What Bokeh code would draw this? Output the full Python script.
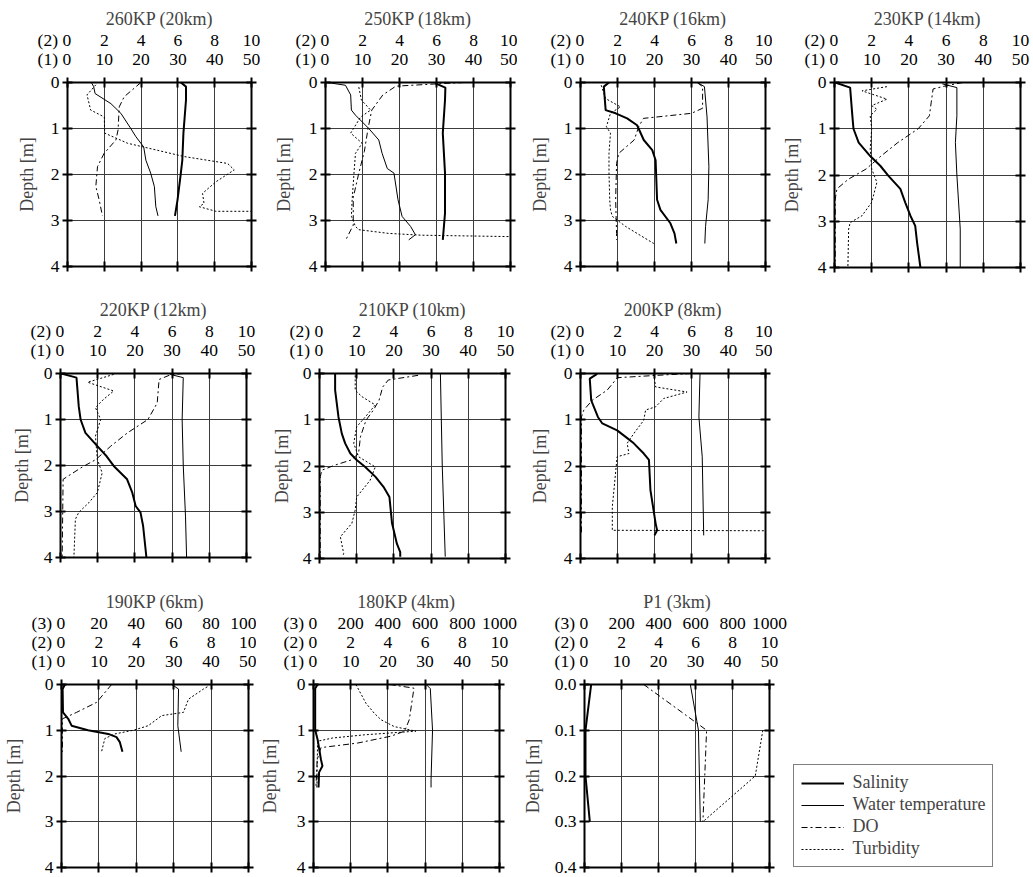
from bokeh.plotting import figure
from bokeh.models import (Range1d, LinearAxis, FixedTicker, Legend,
                          LegendItem, ColumnDataSource, PrintfTickFormatter)
from bokeh.layouts import column, row
from bokeh.embed import file_html
from bokeh.resources import INLINE

# ---------------- data (depth [m] / value) ----------------
# scale (1): salinity, water temperature, turbidity (rows 1-2); scale (2): DO; scale (3): turbidity (row 3)
KP260_SAL_D = [0, 0.09, 0.38, 1.1, 1.69, 1.97, 2.55, 2.9]
KP260_SAL_V = [30.8, 32.2, 32.2, 31.5, 31.2, 30.8, 29.9, 29.2]
KP260_TMP_D = [0, 0.09, 0.24, 0.46, 0.67, 1.0, 1.18, 1.4, 1.69, 1.97, 2.26, 2.7, 2.9]
KP260_TMP_V = [6.5, 7.1, 7.5, 11.8, 14.5, 17.2, 18.6, 20.7, 21.3, 22.6, 23.6, 24.0, 24.6]
KP260_DO_D = [0, 0.31, 0.53, 1.03, 1.25, 1.54, 1.83, 2.26, 2.55, 2.9]
KP260_DO_V = [3.99, 3.08, 2.81, 2.75, 2.63, 1.99, 1.63, 1.54, 1.72, 1.9]
KP260_TRB_D = [0.05, 0.27, 0.6, 0.75, 1.1, 1.32, 1.61, 1.76, 1.9, 2.16, 2.41, 2.63, 2.7, 2.8, 2.8]
KP260_TRB_V = [7.7, 5.3, 6.3, 10.0, 10.1, 16.3, 31.7, 43.5, 45.3, 40.3, 36.7, 37.1, 35.8, 40.3, 50.0]

KP250_SAL_D = [0.02, 0.11, 0.38, 1.1, 1.97, 2.84, 3.42]
KP250_SAL_V = [29.7, 32.4, 32.3, 31.7, 32.3, 32.3, 31.7]
KP250_TMP_D = [0, 0.06, 0.27, 0.6, 0.71, 1.0, 1.25, 1.54, 1.87, 1.97, 2.55, 2.91, 3.13, 3.31, 3.42]
KP250_TMP_V = [0.5, 5.4, 6.8, 7.0, 8.1, 11.7, 14.4, 15.3, 16.7, 18.5, 19.6, 20.7, 23.0, 24.3, 22.5]
KP250_DO_D = [0, 0.03, 0.08, 0.27, 0.6, 1.0, 1.5, 1.97, 2.5, 3.1, 3.42]
KP250_DO_V = [7.5, 6.0, 3.8, 3.1, 2.5, 2.3, 2.1, 1.8, 1.5, 1.5, 1.1]
KP250_TRB_D = [0.1, 0.38, 0.6, 0.75, 1.1, 1.32, 1.54, 1.97, 2.55, 2.91, 3.13, 3.2, 3.28, 3.32, 3.35]
KP250_TRB_V = [9.0, 9.7, 12.2, 9.5, 6.8, 9.9, 8.1, 7.7, 7.2, 7.0, 8.1, 9.0, 17.0, 26.0, 50.0]

KP240_SAL_D = [0, 0.09, 0.6, 0.67, 0.78, 0.93, 1.25, 1.47, 1.69, 2.55, 2.77, 3.06, 3.28, 3.5]
KP240_SAL_V = [7.7, 6.3, 6.8, 9.5, 12.6, 15.3, 17.1, 19.4, 20.3, 20.7, 21.6, 24.3, 25.4, 25.9]
KP240_TMP_D = [0.02, 0.09, 0.75, 1.83, 2.55, 3.13, 3.5]
KP240_TMP_V = [32.0, 33.5, 34.2, 34.7, 34.5, 33.8, 33.6]
KP240_DO_D = [0, 0.09, 0.56, 0.67, 0.78, 0.96, 1.25, 1.54, 1.76, 2.55, 3.28, 3.42]
KP240_DO_V = [6.3, 6.6, 6.6, 6.0, 3.4, 3.15, 2.9, 2.07, 1.95, 1.9, 1.95, 1.95]
KP240_TRB_D = [0.06, 0.35, 0.53, 0.67, 0.96, 1.1, 1.54, 1.97, 2.55, 2.77, 2.91, 3.13, 3.5]
KP240_TRB_V = [5.6, 6.8, 10.8, 8.1, 7.0, 8.1, 7.7, 7.7, 7.9, 8.1, 8.6, 12.2, 19.8]

KP230_SAL_D = [0, 0.11, 0.72, 1.0, 1.3, 1.59, 1.8, 2.02, 2.3, 2.59, 2.88, 3.1, 3.46, 4.0]
KP230_SAL_V = [0.2, 4.2, 4.8, 5.1, 6.5, 9.6, 12.3, 14.5, 17.7, 19.0, 20.4, 21.7, 22.2, 23.1]
KP230_TMP_D = [0.03, 0.11, 0.72, 1.3, 2.0, 3.17, 4.0]
KP230_TMP_V = [29.0, 32.9, 32.9, 32.5, 32.9, 33.8, 33.8]
KP230_DO_D = [0, 0.07, 0.14, 0.43, 0.72, 1.0, 1.3, 1.59, 1.87, 2.09, 2.3, 2.52, 4.0]
KP230_DO_V = [6.9, 6.0, 5.3, 5.2, 5.1, 4.5, 3.4, 2.5, 1.7, 0.75, 0.13, 0.04, 0.04]
KP230_TRB_D = [0.09, 0.18, 0.36, 0.5, 0.58, 0.72, 1.0, 1.44, 1.87, 2.16, 2.59, 2.88, 3.03, 3.17, 4.0]
KP230_TRB_V = [14.1, 7.4, 14.1, 10.0, 11.4, 9.6, 10.0, 9.6, 10.0, 11.4, 10.0, 7.4, 4.2, 3.8, 3.6]

KP220_SAL_D = [0, 0.09, 0.71, 1.0, 1.29, 1.58, 1.8, 2.01, 2.3, 2.59, 2.88, 3.02, 3.31, 4.0]
KP220_SAL_V = [0.2, 4.3, 4.9, 5.4, 6.7, 9.9, 12.4, 14.3, 17.9, 19.3, 20.2, 21.5, 22.2, 23.1]
KP220_TMP_D = [0.02, 0.09, 1.0, 2.0, 3.1, 4.0]
KP220_TMP_V = [29.5, 33.0, 32.7, 33.0, 33.6, 33.9]
KP220_DO_D = [0, 0.03, 0.13, 0.64, 1.0, 1.29, 1.58, 1.87, 2.05, 2.3, 4.0]
KP220_DO_V = [6.6, 5.9, 5.3, 5.2, 4.7, 3.6, 2.7, 1.9, 1.1, 0.14, 0.09]
KP220_TRB_D = [0.02, 0.19, 0.38, 0.56, 0.74, 1.0, 1.36, 1.87, 2.16, 2.59, 2.81, 3.02, 3.17, 4.0]
KP220_TRB_V = [14.3, 7.3, 14.3, 11.6, 9.4, 10.8, 9.4, 9.9, 11.2, 9.9, 7.6, 4.9, 4.0, 3.6]

KP210_SAL_D = [0, 0.36, 0.94, 1.3, 1.51, 1.73, 1.87, 2.02, 2.23, 2.45, 2.67, 3.24, 3.68, 3.86, 3.96]
KP210_SAL_V = [4.2, 4.2, 5.1, 6.0, 6.9, 8.3, 10.0, 12.3, 15.0, 17.2, 18.8, 19.5, 20.8, 21.7, 21.7]
KP210_TMP_D = [0, 2.0, 3.96]
KP210_TMP_V = [32.5, 33.0, 33.8]
KP210_DO_D = [0.04, 0.14, 0.29, 0.58, 0.79, 1.01, 1.37, 1.73, 1.87, 1.98, 2.09, 2.23, 4.0]
KP210_DO_V = [5.3, 3.7, 3.4, 3.2, 2.9, 2.5, 2.2, 2.1, 1.7, 0.84, 0.13, 0.04, 0.04]
KP210_TRB_D = [0.04, 0.36, 0.5, 0.68, 0.94, 1.15, 1.51, 1.8, 2.02, 2.31, 2.67, 2.95, 3.24, 3.53, 3.89, 3.96]
KP210_TRB_V = [9.6, 9.6, 11.4, 15.0, 12.3, 10.0, 9.2, 10.5, 15.0, 13.6, 10.0, 9.6, 8.7, 5.6, 6.5, 6.2]

KP200_SAL_D = [0.01, 0.11, 0.58, 0.94, 1.08, 1.23, 1.37, 1.51, 1.73, 1.87, 2.52, 3.24, 3.39, 3.5]
KP200_SAL_V = [4.5, 2.5, 2.9, 4.7, 5.9, 9.9, 12.2, 14.4, 17.1, 18.5, 18.9, 20.3, 20.7, 20.0]
KP200_TMP_D = [0.01, 0.94, 1.8, 3.5]
KP200_TMP_V = [32.3, 32.0, 32.9, 33.3]
KP200_DO_D = [0, 0.02, 0.09, 0.36, 0.58, 0.79, 0.94, 3.5]
KP200_DO_V = [6.0, 5.0, 2.0, 1.44, 0.63, 0.18, 0.05, 0.05]
KP200_TRB_D = [0.01, 0.29, 0.4, 0.54, 0.72, 0.79, 1.01, 1.3, 1.51, 1.73, 1.8, 2.88, 3.39, 3.4]
KP200_TRB_V = [19.8, 20.3, 28.8, 22.5, 20.3, 17.6, 17.1, 14.4, 12.6, 13.1, 9.9, 8.6, 8.6, 50.0]

KP190_SAL_D = [0, 0.1, 0.61, 0.75, 0.9, 1.0, 1.08, 1.15, 1.26, 1.47]
KP190_SAL_V = [0.9, 0.3, 0.4, 1.8, 2.7, 7.1, 12.5, 14.7, 15.6, 16.3]
KP190_TMP_D = [0, 0.1, 0.9, 1.47]
KP190_TMP_V = [29.5, 31.3, 31.1, 32.0]
KP190_DO_D = [0, 0.39, 0.61, 0.75, 1.47]
KP190_DO_V = [2.68, 1.88, 0.8, 0.05, 0.05]
KP190_TRB_D = [0.05, 0.1, 0.32, 0.61, 0.68, 0.9, 1.0, 1.08, 1.18, 1.47]
KP190_TRB_V = [78, 75.9, 67.9, 65.2, 53.6, 46.4, 38.4, 28.6, 23.2, 21.4]

KP180_SAL_D = [0, 0.09, 0.99, 1.2, 1.64, 1.78, 1.92, 2.25]
KP180_SAL_V = [1.1, 0.45, 0.45, 1.1, 2.0, 2.4, 1.5, 1.35]
KP180_TMP_D = [0, 0.09, 1.0, 2.07, 2.25]
KP180_TMP_V = [30.3, 31.4, 32.0, 31.6, 31.6]
KP180_DO_D = [0, 0.08, 0.77, 1.02, 1.13, 1.28, 1.38, 1.64, 2.25]
KP180_DO_V = [4.1, 5.4, 5.15, 4.9, 4.16, 2.37, 0.4, 0.2, 0.13]
KP180_TRB_D = [0, 0.41, 0.63, 0.77, 0.92, 1.02, 1.1, 1.17, 1.24, 2.25]
KP180_TRB_V = [228, 282, 327, 363, 434, 551, 273, 102, 22, 18]

P1_SAL_D = [0, 0.1, 0.2, 0.3]
P1_SAL_V = [1.8, 0.27, 0.27, 1.44]
P1_TMP_D = [0, 0.1, 0.3]
P1_TMP_V = [28.6, 30.8, 31.3]
P1_DO_D = [0, 0.1, 0.3]
P1_DO_V = [3.2, 6.6, 6.4]
P1_TRB_D = [0.1, 0.2, 0.3]
P1_TRB_V = [964, 923, 640]

TITLES = ["260KP (20km)", "250KP (18km)", "240KP (16km)", "230KP (14km)",
          "220KP (12km)", "210KP (10km)", "200KP (8km)",
          "190KP (6km)", "180KP (4km)", "P1 (3km)"]
SCALE1_TICKS = [0, 10, 20, 30, 40, 50]
SCALE2_TICKS = [0, 2, 4, 6, 8, 10]
SCALE3_TICKS_A = [0, 20, 40, 60, 80, 100]
SCALE3_TICKS_B = [0, 200, 400, 600, 800, 1000]
DEPTH_TICKS_A = [0, 1, 2, 3, 4]
DEPTH_TICKS_B = [0.0, 0.1, 0.2, 0.3, 0.4]
SCALE_NAMES = ["(1)", "(2)", "(3)"]
LEGEND_NAMES = ["Salinity", "Water temperature", "DO", "Turbidity"]

# ---------------- styles ----------------
FONT = "Liberation Serif, DejaVu Serif, serif"
TICK_FS = "17.5px"
LAB_FS = "18px"
STY = {
    "sal": dict(line_width=2.0),
    "tmp": dict(line_width=1.0),
    "do": dict(line_width=1.0, line_dash="6 3 2 3"),
    "trb": dict(line_width=1.0, line_dash="2 2"),
}
S1 = 9           # standoff of inner (1) axis labels
S2 = -4          # standoff of stacked (2)/(3) axis labels
PAD = " " * 6    # trailing padding balancing the "(k) " prefix so that "0" stays on its tick


def style_axis(ax, ticks, labels=True, line=True, tin=5, tout=5, standoff=3):
    ax.ticker = FixedTicker(ticks=ticks)
    ax.major_tick_in = tin
    ax.major_tick_out = tout
    ax.minor_tick_line_color = None
    ax.axis_line_width = 2
    ax.major_tick_line_width = 2
    ax.axis_line_color = "black" if line else None
    ax.major_tick_line_color = "black" if (tin or tout) else None
    ax.major_label_text_font = FONT
    ax.major_label_standoff = standoff
    if labels:
        ax.major_label_text_color = "black"
        ax.major_label_text_font_size = TICK_FS
    else:
        ax.major_label_text_color = None
        ax.major_label_text_font_size = "1px"


def prefix_zero(ax, name):
    ax.major_label_overrides = {0: name + " 0" + PAD}


def make_panel(title, sal, tmp, do, trb, s3_ticks, depth_ticks, geom, als):
    ml, fw, mr, mt, fh, mb = geom
    ymax = depth_ticks[-1]
    p = figure(frame_width=fw, frame_height=fh, min_border_left=ml, min_border_right=mr,
               min_border_top=mt, min_border_bottom=mb,
               x_range=Range1d(0, 50), y_range=Range1d(ymax, 0),
               x_axis_location="above", output_backend="svg", toolbar_location=None,
               title=title)
    p.background_fill_color = "white"
    p.border_fill_color = "white"
    p.outline_line_color = None
    p.title.text_font = FONT
    p.title.text_font_size = LAB_FS
    p.title.text_font_style = "normal"
    p.title.align = "center"
    p.title.standoff = -5

    p.extra_x_ranges = {"s2": Range1d(0, 10)}
    if s3_ticks is not None:
        p.extra_x_ranges["s3"] = Range1d(s3_ticks[0], s3_ticks[-1])

    ax1 = p.xaxis[0]
    style_axis(ax1, SCALE1_TICKS, standoff=S1)
    prefix_zero(ax1, SCALE_NAMES[0])
    yax = p.yaxis[0]
    style_axis(yax, depth_ticks, standoff=3)
    if depth_ticks[-1] < 1:
        yax.formatter = PrintfTickFormatter(format="%.1f")
    yax.axis_label = "Depth [m]"
    yax.axis_label_text_font = FONT
    yax.axis_label_text_font_size = LAB_FS
    yax.axis_label_text_font_style = "normal"
    yax.axis_label_standoff = als

    ax2 = LinearAxis(x_range_name="s2")
    style_axis(ax2, SCALE2_TICKS, line=False, tin=0, tout=0, standoff=S2)
    prefix_zero(ax2, SCALE_NAMES[1])
    p.add_layout(ax2, "above")
    if s3_ticks is not None:
        ax3 = LinearAxis(x_range_name="s3")
        style_axis(ax3, s3_ticks, line=False, tin=0, tout=0, standoff=S2)
        prefix_zero(ax3, SCALE_NAMES[2])
        p.add_layout(ax3, "above")

    rax = LinearAxis()
    style_axis(rax, depth_ticks, labels=False, standoff=0)
    p.add_layout(rax, "right")
    bax = LinearAxis()
    style_axis(bax, SCALE1_TICKS, labels=False, standoff=0)
    p.add_layout(bax, "below")

    p.xgrid.ticker = FixedTicker(ticks=SCALE1_TICKS)
    p.ygrid.ticker = FixedTicker(ticks=depth_ticks)
    p.grid.grid_line_color = "#3c3c3c"
    p.grid.grid_line_width = 1

    trb_range = "s3" if s3_ticks is not None else "default"
    rends = {}
    for (d, v), key, rng in [(sal, "sal", "default"), (tmp, "tmp", "default"),
                             (do, "do", "s2"), (trb, "trb", trb_range)]:
        src = ColumnDataSource(dict(x=v, y=d))
        rends[key] = p.line("x", "y", source=src, x_range_name=rng, line_color="black", **STY[key])
    return p, rends


# geometry: (min_border_left, frame_width, min_border_right, min_border_top, frame_height, min_border_bottom)
G = [
    (67, 184, 11, 82, 184, 16), (63, 185, 7, 82, 184, 16), (63, 185, 7, 82, 184, 16), (62, 186, 10, 80, 185, 17),
    (60, 186, 16, 89, 184, 17), (57, 186, 12, 91, 185, 14), (63, 185, 7, 91, 185, 14),
    (60, 187, 8, 111, 183, 11), (56, 186, 20, 110, 183, 12), (64, 185, 264, 112, 183, 10),
]
ALS = [11, 12, 11, 13, 9, 8, 11, 18, 14, 9]

DATA = [
    (KP260_SAL_D, KP260_SAL_V, KP260_TMP_D, KP260_TMP_V, KP260_DO_D, KP260_DO_V, KP260_TRB_D, KP260_TRB_V, None, DEPTH_TICKS_A),
    (KP250_SAL_D, KP250_SAL_V, KP250_TMP_D, KP250_TMP_V, KP250_DO_D, KP250_DO_V, KP250_TRB_D, KP250_TRB_V, None, DEPTH_TICKS_A),
    (KP240_SAL_D, KP240_SAL_V, KP240_TMP_D, KP240_TMP_V, KP240_DO_D, KP240_DO_V, KP240_TRB_D, KP240_TRB_V, None, DEPTH_TICKS_A),
    (KP230_SAL_D, KP230_SAL_V, KP230_TMP_D, KP230_TMP_V, KP230_DO_D, KP230_DO_V, KP230_TRB_D, KP230_TRB_V, None, DEPTH_TICKS_A),
    (KP220_SAL_D, KP220_SAL_V, KP220_TMP_D, KP220_TMP_V, KP220_DO_D, KP220_DO_V, KP220_TRB_D, KP220_TRB_V, None, DEPTH_TICKS_A),
    (KP210_SAL_D, KP210_SAL_V, KP210_TMP_D, KP210_TMP_V, KP210_DO_D, KP210_DO_V, KP210_TRB_D, KP210_TRB_V, None, DEPTH_TICKS_A),
    (KP200_SAL_D, KP200_SAL_V, KP200_TMP_D, KP200_TMP_V, KP200_DO_D, KP200_DO_V, KP200_TRB_D, KP200_TRB_V, None, DEPTH_TICKS_A),
    (KP190_SAL_D, KP190_SAL_V, KP190_TMP_D, KP190_TMP_V, KP190_DO_D, KP190_DO_V, KP190_TRB_D, KP190_TRB_V, SCALE3_TICKS_A, DEPTH_TICKS_A),
    (KP180_SAL_D, KP180_SAL_V, KP180_TMP_D, KP180_TMP_V, KP180_DO_D, KP180_DO_V, KP180_TRB_D, KP180_TRB_V, SCALE3_TICKS_B, DEPTH_TICKS_A),
    (P1_SAL_D, P1_SAL_V, P1_TMP_D, P1_TMP_V, P1_DO_D, P1_DO_V, P1_TRB_D, P1_TRB_V, SCALE3_TICKS_B, DEPTH_TICKS_B),
]

figs = []
rends = []
for i, (sd, sv, td, tv, dd, dv, bd, bv, s3, dt) in enumerate(DATA):
    f, r = make_panel(TITLES[i], (sd, sv), (td, tv), (dd, dv), (bd, bv), s3, dt, G[i], ALS[i])
    figs.append(f)
    rends.append(r)

# legend, to the right of the last panel
last = rends[-1]
items = [LegendItem(label=nm, renderers=[last[key]])
         for nm, key in zip(LEGEND_NAMES, ["sal", "tmp", "do", "trb"])]
legend = Legend(items=items, location=(-210, 0), padding=7, margin=0, spacing=1,
                label_standoff=9, glyph_width=43, glyph_height=20, label_height=20,
                label_text_font=FONT, label_text_font_size=LAB_FS,
                border_line_color="black", border_line_width=1.5,
                background_fill_color="white", background_fill_alpha=1.0)
figs[-1].add_layout(legend, "right")

layout = column(row(figs[0], figs[1], figs[2], figs[3]),
                row(figs[4], figs[5], figs[6]),
                row(figs[7], figs[8], figs[9]))

html = file_html(layout, INLINE, title="Depth profiles")
html = html.replace("<head>", "<head><style>html, body {overflow: hidden;}</style>", 1)
open("out.html", "w").write(html)
